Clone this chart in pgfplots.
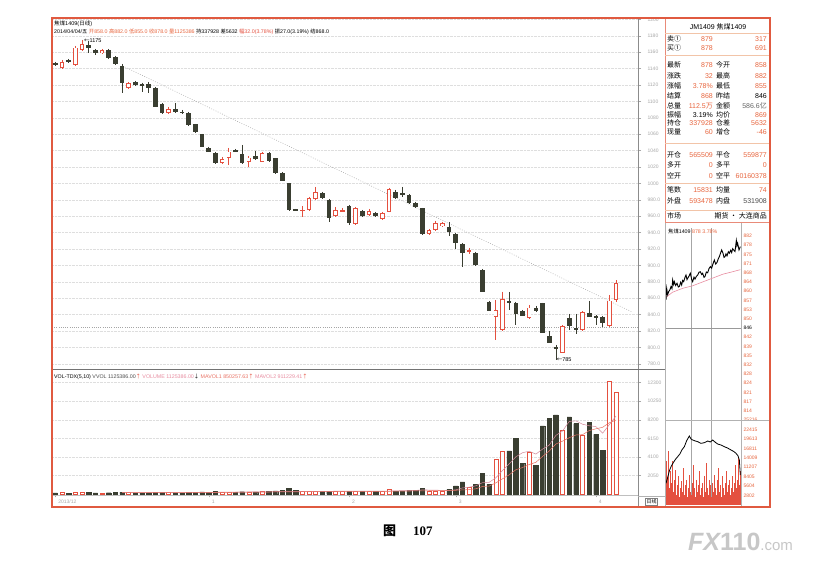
\documentclass[border=0pt]{standalone}
\usepackage{pgfplots}
\pgfplotsset{compat=1.18}
\usepackage{pgfplotstable}
\usepackage{fontspec}
\setmainfont{Liberation Sans}
\newfontfamily\cjk{Noto Sans CJK SC}
\newfontfamily\serifb{Liberation Serif}

\definecolor{kred}{HTML}{E4503F}
\definecolor{kblk}{HTML}{3A3E31}
\definecolor{framec}{HTML}{E05A40}
\definecolor{txtor}{HTML}{E8663F}
\definecolor{pnk}{HTML}{E88CA0}
\definecolor{lbl}{HTML}{A8A8A8}
\definecolor{sepc}{HTML}{F2C4A8}

% daily candles: index, open, high, low, close, volume (x100 lots)
\pgfplotstableread{
i o h l c v
0 1146.3 1148.2 1143.3 1144.5 150
2 1150.2 1151.8 1146.9 1148.5 140
5 1168.9 1173.8 1159.1 1165.6 200
6 1162.8 1164.0 1156.7 1158.8 160
8 1162.8 1164.0 1151.8 1152.7 170
9 1154.6 1155.5 1144.5 1145.4 200
10 1143.6 1145.7 1110.3 1122.2 240
12 1123.4 1125.0 1118.9 1120.1 150
13 1120.7 1122.9 1111.9 1119.5 160
14 1121.0 1123.8 1110.3 1116.8 170
15 1116.1 1117.7 1093.3 1093.6 230
16 1096.9 1098.1 1084.7 1085.9 210
18 1090.8 1098.1 1085.9 1087.5 170
19 1087.2 1089.6 1084.7 1085.9 160
20 1085.9 1087.2 1070.1 1071.3 230
21 1072.2 1072.5 1061.5 1062.4 220
22 1060.0 1060.3 1044.5 1044.8 260
23 1043.6 1044.5 1038.4 1038.7 240
24 1036.8 1038.4 1023.7 1024.6 300
27 1040.2 1042.0 1038.4 1039.0 240
28 1035.6 1046.9 1023.7 1024.6 280
30 1033.5 1039.6 1028.6 1029.5 260
32 1037.5 1038.4 1026.2 1027.7 300
33 1030.7 1031.0 1011.5 1012.4 380
34 1013.1 1013.9 1002.9 1003.3 420
35 1000.2 1000.5 966.4 967.6 660
36 968.2 968.8 966.4 967.0 420
40 988.7 989.6 981.0 981.9 300
41 979.8 981.0 953.0 957.5 350
44 972.5 973.7 949.3 952.1 360
46 966.8 967.6 959.1 960.3 300
48 964.3 965.2 959.1 960.3 300
51 989.9 992.0 981.0 981.9 330
52 987.7 995.7 983.5 986.5 350
53 985.9 987.1 974.9 975.8 420
54 976.5 977.4 970.0 970.9 430
55 969.7 970.0 937.1 938.3 660
59 947.2 953.0 935.9 941.1 550
60 938.3 939.5 920.0 927.7 913
61 926.1 927.3 898.4 914.8 1353
63 914.8 916.4 899.3 900.5 1100
64 894.4 895.6 867.6 867.9 2277
65 855.7 856.6 844.4 844.7 1100
68 856.6 867.6 845.6 855.0 4763
69 853.8 855.4 827.3 840.7 6127
70 844.7 845.6 838.3 838.6 3377
72 848.4 850.5 843.2 844.7 3190
73 853.8 854.1 817.5 817.9 7513
74 814.2 820.0 805.3 805.7 8327
75 800.8 802.9 785.0 797.7 8723
77 836.2 840.7 821.2 826.4 8503
78 823.0 840.7 816.3 821.8 7777
80 842.3 856.6 837.1 837.4 7887
81 838.6 839.5 827.3 835.8 6600
82 836.7 838.3 824.9 829.4 4840
}\dn

\pgfplotstableread{
i o h l c v
1 1141.2 1150.6 1139.6 1148.5 180
3 1144.5 1167.7 1143.3 1165.6 260
4 1162.8 1175.0 1161.6 1169.8 220
7 1158.8 1164.0 1157.9 1162.8 150
11 1116.1 1123.8 1115.2 1122.2 170
17 1085.9 1093.3 1084.7 1090.8 180
25 1024.6 1032.3 1023.7 1029.8 250
26 1030.7 1043.2 1022.5 1038.7 260
29 1025.8 1033.5 1020.1 1031.4 260
31 1026.5 1038.4 1026.2 1036.8 280
37 966.4 972.5 959.1 967.6 330
38 967.6 983.5 966.4 981.9 320
39 980.7 995.7 979.8 989.9 300
42 960.3 971.3 959.1 967.6 320
43 965.8 970.0 965.2 967.6 280
45 950.5 971.3 949.3 969.7 330
47 961.5 968.8 960.3 966.4 280
49 956.3 965.2 955.4 963.6 300
50 965.5 994.4 965.2 992.9 550
56 938.3 944.4 937.1 943.2 300
57 943.2 954.2 942.0 951.7 330
58 948.1 953.0 946.9 951.4 350
62 917.0 921.2 913.9 918.2 737
66 836.7 857.8 809.0 845.6 3850
67 821.2 867.9 820.0 858.7 4763
71 836.2 851.7 834.6 848.4 4653
76 793.5 827.3 793.1 826.4 7040
79 821.2 844.4 820.0 843.5 6490
83 826.1 863.9 824.9 857.0 12463
84 858.0 882.0 855.0 878.0 11254
}\up

% intraday price (minute, price)
\pgfplotstableread{
m p
0 857.0
2 861.5
5 859.0
8 860.2
12 861.0
15 862.2
18 861.4
20 864.8
23 863.0
25 864.1
29 862.6
33 863.5
37 862.0
40 862.2
44 863.9
47 862.8
50 864.6
53 864.1
57 865.8
60 866.7
63 864.9
65 865.4
69 866.3
73 867.4
77 865.0
80 864.1
84 865.9
87 865.1
91 866.2
95 866.7
99 867.8
103 868.0
107 866.9
110 867.4
114 865.8
117 866.1
121 867.9
125 867.6
129 869.2
133 870.0
137 869.4
140 870.7
145 872.6
149 871.0
153 871.6
157 873.1
160 873.9
164 875.4
167 876.5
171 875.2
174 873.6
177 873.9
180 875.0
183 874.2
187 875.8
190 875.2
194 876.4
197 875.5
200 877.0
203 876.5
207 875.9
211 880.2
213 878.2
215 879.1
219 876.5
223 877.8
}\itp

% intraday volume (minute, lots)
\pgfplotstableread{
m v
0 13000
3 8000
6 16000
9 5000
12 10000
15 6500
18 13000
21 4000
24 7500
27 10500
30 3000
33 6000
36 8500
39 2500
42 5000
45 7000
48 4000
51 11000
54 3000
57 6000
60 7500
63 2500
66 5000
69 9000
72 4000
75 3000
78 6500
81 12000
84 5000
87 2500
90 7500
93 4000
96 6000
99 10000
102 3000
105 5000
108 6500
111 2500
114 8500
117 4000
120 12500
123 5000
126 3000
129 7500
132 6000
135 2500
138 6500
141 4000
144 9000
147 5000
150 3000
153 7500
156 11000
159 4000
162 6000
165 2500
168 8500
171 5000
174 3000
177 6500
180 10000
183 4000
186 6000
189 7500
192 3000
195 5000
198 8500
201 4000
204 6500
207 12000
210 5000
213 7500
216 14000
219 6000
222 10000
}\itv

\pgfplotsset{
  kax/.style={scale only axis, anchor=south west, xmin=-0.49, xmax=87.3,
    scaled ticks=false,
    axis line style={draw=none}, tick style={draw=lbl, line width=0.4pt},
    tick align=outside, major tick length=3pt,
    ymajorgrids, grid style={densely dotted, black!13, line width=0.4pt},
    ticklabel style={font=\fontsize{5}{6}\selectfont, text=lbl}},
  wick/.style={draw=none, mark=none, error bars/.cd, y dir=both, y explicit,
    error mark=none, error bar style={line width=0.7pt, draw=#1}},
  body/.style 2 args={draw=none, mark=none, error bars/.cd, y dir=both, y explicit,
    error mark=none, error bar style={line width=#1, draw=#2}},
  iax/.style={scale only axis, anchor=south west, xmin=0, xmax=225,
    scaled ticks=false,
    axis line style={draw=none}, major tick length=0pt, xtick=\empty,
    yticklabel pos=right,
    ticklabel style={font=\fontsize{5}{6}\selectfont, text=txtor}},
}

\begin{document}
\begin{tikzpicture}[x=1pt, y=1pt]
\fill[white] (0,0) rectangle (825,564);
\useasboundingbox (0,0) rectangle (825,564);

% ---------- daily candles ----------
\begin{axis}[kax, at={(52pt,196pt)}, width=586pt, height=350pt,
  ymin=774.8, ymax=1201.8, xtick=\empty,
  ytick={780,800,820,840,860,880,900,920,940,960,980,1000,1020,1040,1060,1080,1100,1120,1140,1160,1180,1200},
  yticklabels={780.0,800.0,820.0,840.0,860.0,880.0,900.0,920.0,940.0,960.0,980.0,1000,1020,1040,1060,1080,1100,1120,1140,1160,1180,1200},
  ytick pos=right, yticklabel pos=right,
  yticklabel style={anchor=west, xshift=3pt}]
\addplot[gray!70, line width=0.5pt, dash pattern=on 1pt off 1.2pt] coordinates {(-0.49,824.9) (87.3,824.9)};
\addplot[black!35, line width=0.5pt, dash pattern=on 0.8pt off 1.6pt] coordinates {(10.1,1143.3) (86.4,843.2)};
\addplot[wick=kblk] table[x=i, y=h, y error plus expr=0, y error minus expr=\thisrow{h}-\thisrow{l}] {\dn};
\addplot[wick=kred] table[x=i, y=h, y error plus expr=0, y error minus expr=\thisrow{h}-\thisrow{l}] {\up};
\addplot[body={4.6pt}{kblk}] table[x=i, y expr={(\thisrow{o}+\thisrow{c})/2}, y error expr={max(abs(\thisrow{o}-\thisrow{c})/2,0.6)}] {\dn};
\addplot[body={4.6pt}{kred}] table[x=i, y expr={(\thisrow{o}+\thisrow{c})/2}, y error expr={max(abs(\thisrow{o}-\thisrow{c})/2,0.6)}] {\up};
\addplot[body={2.8pt}{white}] table[x=i, y expr={(\thisrow{o}+\thisrow{c})/2}, y error expr={max(abs(\thisrow{o}-\thisrow{c})/2-1.0,0)}] {\up};
\node[anchor=west, inner sep=0pt, font=\fontsize{5.5}{6}\selectfont] at (axis cs:4.3,1174) {{\cjk ←}1175};
\node[anchor=west, inner sep=0pt, font=\fontsize{5.5}{6}\selectfont] at (axis cs:75.1,785) {{\cjk ←}785};
\end{axis}

% ---------- daily volume ----------
\begin{axis}[kax, at={(52pt,69.7pt)}, width=586pt, height=124.3pt,
  ymin=0, ymax=13673,
  ytick={2050,4100,6150,8200,10250,12300},
  yticklabels={2050,4100,6150,8200,10250,12300},
  ytick pos=right, yticklabel pos=right,
  yticklabel style={anchor=west, xshift=3pt},
  xtick={0,23,44,60,81}, xticklabels={2013/12,1,2,3,4}, xtick pos=bottom,
  xticklabel style={anchor=north west, xshift=-0.5pt, yshift=1pt}]
\addplot[ybar, bar width=4.4pt, bar shift=0pt, fill=kblk, draw=kblk] table[x=i, y=v] {\dn};
\addplot[ybar, bar width=4.0pt, bar shift=0pt, fill=white, draw=kred, line width=0.6pt] table[x=i, y=v] {\up};
\addplot[pnk!80!gray, line width=0.5pt] coordinates {(10,190) (20,200) (30,260) (40,330) (50,360) (52,400) (54,430) (55,480) (57,460) (58,420) (59,438) (60,489) (61,699) (62,781) (63,931) (64,1276) (65,1313) (66,1813) (67,2618) (68,3351) (69,4121) (70,4576) (71,4737) (72,4422) (73,4972) (74,5412) (75,6481) (76,6959) (77,8021) (78,8074) (79,7707) (80,7539) (81,7451) (82,6719) (83,7656) (84,8609)};
\addplot[kred!80, line width=0.5pt] coordinates {(10,180) (20,190) (30,240) (40,300) (50,330) (54,370) (58,410) (60,440) (62,520) (63,600) (64,857) (65,901) (66,1256) (67,1700) (68,2141) (69,2699) (70,2945) (71,3275) (72,3520) (73,4162) (74,4767) (75,5529) (76,5848) (77,6222) (78,6523) (79,6560) (80,7010) (81,7205) (82,7370) (83,7865) (84,8158)};
\end{axis}

% ---------- intraday price ----------
\begin{axis}[iax, at={(666pt,144pt)}, width=75pt, height=192pt,
  ymin=810, ymax=885.1,
  ytick={882,878.4,874.8,871.2,867.6,864,860.4,856.8,853.2,849.6,846,842.4,838.8,835.2,831.6,828,824.4,820.8,817.2,813.6},
  yticklabels={882,878,875,871,868,864,860,857,853,850,\textcolor{black}{846},842,839,835,832,828,824,821,817,814},
  yticklabel style={anchor=west, xshift=-1pt}]
\addplot[black!35, line width=0.4pt] coordinates {(75,810) (75,885.1)};
\addplot[black!35, line width=0.4pt] coordinates {(135,810) (135,885.1)};
\addplot[black!40, line width=0.5pt] coordinates {(0,846) (225,846)};
\addplot[pnk, line width=0.6pt] coordinates {(0,858) (20,860) (50,861.5) (80,862.5) (110,864) (140,865.5) (170,867) (200,868) (223,868.8)};
\addplot[black, line width=0.9pt] table[x=m, y=p] {\itp};
\end{axis}

% ---------- intraday volume ----------
\begin{axis}[iax, at={(666pt,59pt)}, width=75pt, height=85pt,
  ymin=0, ymax=25228,
  ytick={2802,5604,8405,11207,14009,16811,19613,22415,25216},
  yticklabels={2802,5604,8405,11207,14009,16811,19613,22415,25216},
  yticklabel style={anchor=west, xshift=-1pt}]
\addplot[black!35, line width=0.4pt] coordinates {(75,0) (75,25228)};
\addplot[black!35, line width=0.4pt] coordinates {(135,0) (135,25228)};
\addplot[ycomb, kred, line width=0.6pt] table[x=m, y=v] {\itv};
\addplot[black, line width=0.8pt] coordinates {(0,6440) (5,8200) (10,10100) (15,11370) (22,12600) (28,13500) (35,14340) (42,15200) (48,16400) (55,17300) (62,19100) (70,20480) (75,19600) (80,19290) (88,19000) (95,18800) (105,18300) (115,18490) (125,19000) (133,18700) (140,19290) (148,18600) (155,18100) (165,17800) (175,17300) (185,16900) (195,16320) (203,15900) (210,15340) (216,14600) (220,13360) (223,8900)};
\end{axis}

% ---------- frame and separators ----------
\draw[black!45, line width=0.5pt] (638,546) -- (638,57);
\draw[black!55, line width=0.6pt] (52,195) -- (665,195);
\draw[black!25, line width=0.4pt] (52,69) -- (638,69);
\draw[black!30, line width=0.5pt] (665,342) -- (665,57);
\draw[black!30, line width=0.5pt] (741,342) -- (741,57);
\draw[black!30, line width=0.5pt] (665,144) -- (770,144);
\draw[black!30, line width=0.4pt] (638,68) -- (665,68);
\draw[framec!70, line width=0.8pt] (665,546) -- (665,342) -- (770,342);
\foreach \yy in {33,55.7,143.3,183,210}
  \draw[sepc, line width=0.6pt] (665,{564-\yy}) -- (770,{564-\yy});
\draw[framec, line width=1.8pt] (52,546) rectangle (770,57);

% ---------- texts ----------
\begin{scope}[every node/.style={inner sep=0pt}]
\node[anchor=base west, font=\fontsize{5.5}{6}\selectfont] at (54,{564-26}) {{\cjk 焦煤}1409({\cjk 日线})};
\node[anchor=base west, font=\fontsize{5.3}{6}\selectfont] at (54,{564-33.5}) {2014/04/04/{\cjk 五} \textcolor{txtor}{{\cjk 开}858.0 {\cjk 高}882.0 {\cjk 低}855.0 {\cjk 收}878.0 {\cjk 量}1125386} {\cjk 持}337928 {\cjk 差}5632 \textcolor{kred}{{\cjk 幅}32.0(3.78\%)} {\cjk 振}27.0(3.19\%) {\cjk 结}868.0};
\node[anchor=base west, font=\fontsize{5.3}{6}\selectfont] at (54,{564-378.5}) {VOL-TDX(5,10) \textcolor{black!70}{VVOL 1125386.00}\textcolor{kred}{\cjk ↑} \textcolor{pnk}{VOLUME 1125386.00}{\cjk ↓} \textcolor{kred!80}{MAVOL1 850257.63}\textcolor{kred}{\cjk ↑} \textcolor{pnk}{MAVOL2 911229.41}\textcolor{kred}{\cjk ↑}};
\node[anchor=base west, font=\fontsize{5.3}{6}\selectfont] at (668,{564-234}) {{\cjk 焦煤}1409 \textcolor{txtor}{878 3.78\%}};
\node[anchor=base, font=\fontsize{7}{8}\selectfont] at (718,{564-30}) {JM1409 {\cjk 焦煤}1409};
\node[font=\fontsize{5}{6}\selectfont, draw=black!50, inner sep=1pt] at (651.5,{564-501.5}) {\cjk 日线};
\end{scope}

\newcommand\inforow[5]{%
  \node[anchor=base west] at (667,{564-#1}) {\cjk #2};
  \node[anchor=base east] at (713,{564-#1}) {#3};
  \node[anchor=base west] at (716,{564-#1}) {\cjk #4};
  \node[anchor=base east] at (767,{564-#1}) {#5};}
\begin{scope}[every node/.style={inner sep=0pt, font=\fontsize{7}{8}\selectfont}]
\inforow{42}{卖①}{\textcolor{txtor}{879}}{}{\textcolor{txtor}{317}}
\inforow{51}{买①}{\textcolor{txtor}{878}}{}{\textcolor{txtor}{691}}
\inforow{67.5}{最新}{\textcolor{txtor}{878}}{今开}{\textcolor{txtor}{858}}
\inforow{78.5}{涨跌}{\textcolor{txtor}{32}}{最高}{\textcolor{txtor}{882}}
\inforow{88.5}{涨幅}{\textcolor{txtor}{3.78\%}}{最低}{\textcolor{txtor}{855}}
\inforow{98.5}{结算}{\textcolor{txtor}{868}}{昨结}{846}
\inforow{109}{总量}{\textcolor{txtor}{112.5{\cjk 万}}}{金额}{\textcolor{black!60}{586.6{\cjk 亿}}}
\inforow{117.5}{振幅}{3.19\%}{均价}{\textcolor{txtor}{869}}
\inforow{126}{持仓}{\textcolor{txtor}{337928}}{仓差}{\textcolor{txtor}{5632}}
\inforow{134.5}{现量}{\textcolor{txtor}{60}}{增仓}{\textcolor{txtor}{-46}}
\inforow{157.5}{开仓}{\textcolor{txtor}{565509}}{平仓}{\textcolor{txtor}{559877}}
\inforow{167.5}{多开}{\textcolor{txtor}{0}}{多平}{\textcolor{txtor}{0}}
\inforow{179}{空开}{\textcolor{txtor}{0}}{空平}{\textcolor{txtor}{60160378}}
\inforow{192.5}{笔数}{\textcolor{txtor}{15831}}{均量}{\textcolor{txtor}{74}}
\inforow{204}{外盘}{\textcolor{txtor}{593478}}{内盘}{\textcolor{black!70}{531908}}
\node[anchor=base west] at (667,{564-219}) {\cjk 市场};
\node[anchor=base east] at (767,{564-219}) {\cjk 期货 · 大连商品};
\end{scope}

% caption and watermark
\node[anchor=base west, inner sep=0pt, font=\fontsize{13}{14}\selectfont] at (383,{564-536}) {\cjk\bfseries 图};
\node[anchor=base west, inner sep=0pt, font=\fontsize{13}{14}\selectfont] at (413,{564-536}) {\serifb\bfseries 107};
\node[anchor=base west, inner sep=0pt, text=black!22] at (688,{564-551}) {{\fontsize{25}{26}\selectfont\bfseries\itshape FX}{\fontsize{25}{26}\selectfont\bfseries 110}{\fontsize{15}{16}\selectfont .com}};
\end{tikzpicture}
\end{document}
